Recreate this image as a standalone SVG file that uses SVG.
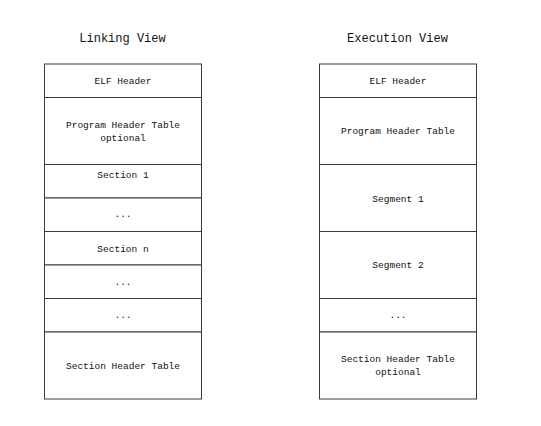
<svg xmlns="http://www.w3.org/2000/svg" width="541" height="426" viewBox="0 0 541 426">
<style>
.cell{fill:#fff;stroke:#3a3a3a;stroke-width:1}
text{font-family:"Liberation Mono","DejaVu Sans Mono",monospace;fill:#111;text-anchor:middle}
.t{font-size:9.5px}
.h{font-size:12px}
</style>
<rect width="541" height="426" fill="#fff"/>
<text class="h" x="122.5" y="42">Linking View</text>
<text class="h" x="397.5" y="42">Execution View</text>
<g id="linking">
<g id="l-elf"><rect class="cell" x="44.5" y="64" width="157" height="33.5"/><text class="t" x="123" y="84">ELF Header</text></g>
<g id="l-pht"><rect class="cell" x="44.5" y="97.5" width="157" height="67"/><text class="t" x="123" y="127.5">Program Header Table</text><text class="t" x="123" y="140.5">optional</text></g>
<g id="l-s1"><rect class="cell" x="44.5" y="164.5" width="157" height="33.5"/><text class="t" x="123" y="177.5">Section 1</text></g>
<g id="l-d1"><rect class="cell" x="44.5" y="198" width="157" height="33.5"/><text class="t" x="123" y="217">...</text></g>
<g id="l-sn"><rect class="cell" x="44.5" y="231.5" width="157" height="33.5"/><text class="t" x="123" y="251.5">Section n</text></g>
<g id="l-d2"><rect class="cell" x="44.5" y="265" width="157" height="33.5"/><text class="t" x="123" y="284.5">...</text></g>
<g id="l-d3"><rect class="cell" x="44.5" y="298.5" width="157" height="33.5"/><text class="t" x="123" y="318">...</text></g>
<g id="l-sht"><rect class="cell" x="44.5" y="332" width="157" height="67"/><text class="t" x="123" y="369">Section Header Table</text></g>
</g>
<g id="execution">
<g id="e-elf"><rect class="cell" x="319.5" y="64" width="157" height="33.5"/><text class="t" x="398" y="84">ELF Header</text></g>
<g id="e-pht"><rect class="cell" x="319.5" y="97.5" width="157" height="67"/><text class="t" x="398" y="134">Program Header Table</text></g>
<g id="e-seg1"><rect class="cell" x="319.5" y="164.5" width="157" height="67"/><text class="t" x="398" y="201.5">Segment 1</text></g>
<g id="e-seg2"><rect class="cell" x="319.5" y="231.5" width="157" height="67"/><text class="t" x="398" y="268">Segment 2</text></g>
<g id="e-d"><rect class="cell" x="319.5" y="298.5" width="157" height="33.5"/><text class="t" x="398" y="318">...</text></g>
<g id="e-sht"><rect class="cell" x="319.5" y="332" width="157" height="67"/><text class="t" x="398" y="362">Section Header Table</text><text class="t" x="398" y="375">optional</text></g>
</g>
<g id="connectors"/>
</svg>
